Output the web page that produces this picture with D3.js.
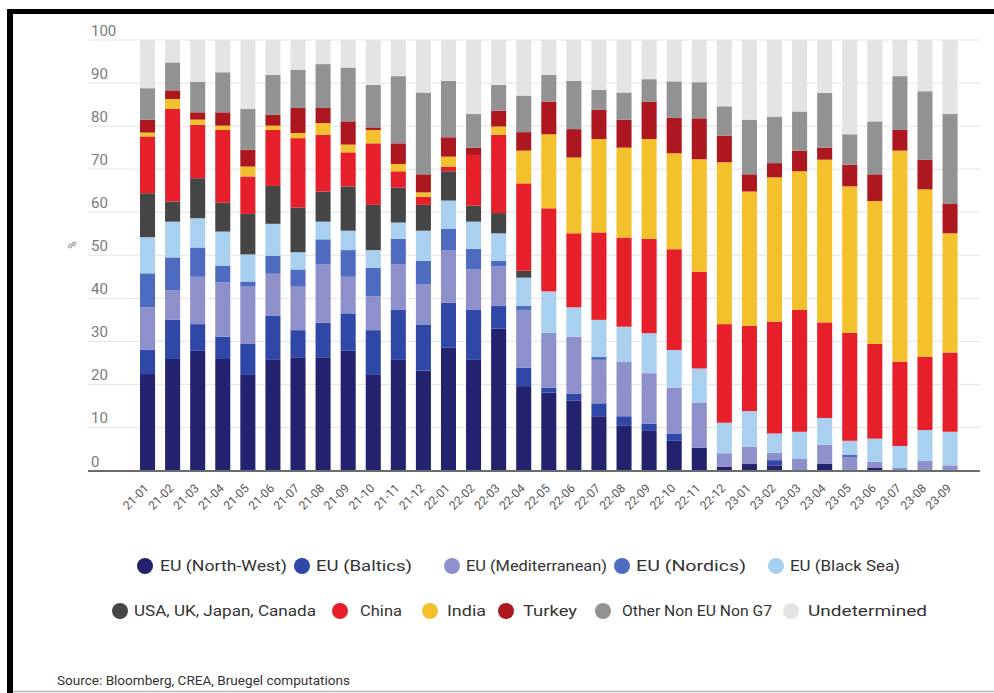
<!DOCTYPE html>
<html>
<head>
<meta charset="utf-8">
<script src="https://cdn.jsdelivr.net/npm/d3@7"></script>
<style>
  html, body { margin: 0; padding: 0; background: #fff; }
  svg { display: block; }
  text { font-family: "Liberation Sans Narrow", "Roboto", "Liberation Sans", sans-serif; }
</style>
</head>
<body>
<svg id="chart" width="994" height="693"></svg>
<script>
// ---------- DATA ----------
const months = ["21-01","21-02","21-03","21-04","21-05","21-06","21-07","21-08","21-09","21-10","21-11","21-12",
  "22-01","22-02","22-03","22-04","22-05","22-06","22-07","22-08","22-09","22-10","22-11","22-12",
  "23-01","23-02","23-03","23-04","23-05","23-06","23-07","23-08","23-09"];

const seriesNames = ["EU (North-West)","EU (Baltics)","EU (Mediterranean)","EU (Nordics)","EU (Black Sea)",
  "USA, UK, Japan, Canada","China","India","Turkey","Other Non EU Non G7","Undetermined"];

const seriesColors = ["#22226f","#2f47a6","#8d90cb","#4e6bbf","#a9d0ef","#454545","#e61f2b","#f3c12c","#ad1820","#929292","#e4e4e4"];

const euNorthWest    = [22.4,25.9,27.8,25.9,22.2,25.7,26.3,26.3,27.8,22.2,25.7,23.2,28.6,25.7,33.0,19.6,18.1,16.2,12.6,10.5,9.2,6.9,5.3,0.9,1.5,1.2,0,1.6,0,0.7,0,0,0];
const euBaltics      = [5.7,9.1,6.2,5.2,7.3,10.2,6.3,8.0,8.7,10.4,11.7,10.6,10.4,11.6,5.2,4.3,1.1,1.6,3.0,2.1,1.7,1.7,0,0,0,1.2,0,0,0,0,0,0,0];
const euMediterranean= [9.8,6.9,11.0,12.6,13.2,9.8,10.1,13.6,8.5,7.9,10.5,9.5,12.2,9.4,9.2,13.4,12.8,13.3,10.1,12.7,11.7,10.6,10.5,3.1,4.0,1.7,2.8,4.4,3.0,1.3,0.6,2.2,1.2];
const euNordics      = [7.9,7.6,6.8,3.9,1.2,4.2,4.0,5.8,6.2,6.6,5.9,5.4,4.9,4.8,1.3,0.9,0,0,0.7,0,0,0,0,0,0,0,0,0,0.7,0,0,0,0];
const euBlackSea     = [8.4,8.3,6.8,7.9,6.3,7.4,4.0,4.1,4.5,4.1,3.8,7.0,6.6,6.3,6.4,6.6,9.6,6.8,8.6,8.1,9.3,8.8,7.9,7.1,8.3,4.5,6.2,6.2,3.2,5.4,5.1,7.2,7.8];
const usaUkJapanCan  = [10.2,4.7,9.3,6.7,9.4,8.8,10.4,7.0,10.3,10.5,8.1,6.0,6.8,3.7,4.7,1.6,0,0,0,0,0,0,0,0,0,0,0,0,0,0,0,0,0];
const china          = [13.2,21.5,12.4,16.9,8.7,13.0,16.1,13.2,7.9,14.3,3.8,1.9,1.1,11.8,18.2,20.3,19.3,17.2,20.3,20.7,21.9,23.4,22.5,22.9,19.8,26.0,28.3,22.2,25.1,22.0,19.6,17.0,18.4];
const india          = [0.9,2.3,1.2,1.0,2.3,1.0,1.2,2.7,1.8,3.1,1.7,1.0,2.3,0,1.9,7.6,17.2,17.6,21.7,20.9,23.2,22.3,26.1,37.6,31.2,33.5,32.2,37.8,34.0,33.2,49.0,38.9,27.7];
const turkey         = [3.0,2.0,1.7,3.1,3.9,2.5,5.8,3.5,5.4,0.6,4.8,4.2,4.5,1.7,3.7,4.3,7.6,6.6,6.8,6.5,8.7,8.2,9.5,6.2,4.0,3.3,4.8,2.8,5.0,6.2,4.8,6.9,6.8];
const otherNonEu     = [7.3,6.5,7.1,9.3,9.5,9.3,8.9,10.2,12.5,9.9,15.6,19.0,13.1,7.8,6.0,8.5,6.2,11.2,4.6,6.3,5.2,8.5,8.4,6.8,12.7,10.8,9.1,12.7,7.1,12.3,12.5,15.9,20.9];
const undetermined   = [11.2,5.2,9.7,7.5,16.0,8.1,6.9,5.6,6.4,10.4,8.4,12.2,9.5,17.2,10.4,12.9,8.1,9.5,11.6,12.2,9.1,9.6,9.8,15.4,18.5,17.8,16.6,12.3,21.9,18.9,8.4,11.9,17.2];

const yTicks = [0,10,20,30,40,50,60,70,80,90,100];
const yAxisLabel = "%";
const sourceText = "Source: Bloomberg, CREA, Bruegel computations";

// ---------- BUILD TABLE ----------
const seriesValues = [euNorthWest,euBaltics,euMediterranean,euNordics,euBlackSea,usaUkJapanCan,china,india,turkey,otherNonEu,undetermined];
const keys = seriesNames;
const table = months.map((m,i) => {
  const row = {month: m};
  keys.forEach((k,j) => row[k] = seriesValues[j][i]);
  return row;
});
const stacked = d3.stack().keys(keys)(table);
const color = d3.scaleOrdinal().domain(keys).range(seriesColors);

// ---------- LAYOUT ----------
const svg = d3.select("#chart");

// frame
svg.append("rect").attr("x",7).attr("y",9).attr("width",987).attr("height",5).attr("fill","#000");
svg.append("rect").attr("x",7).attr("y",9).attr("width",6).attr("height",684).attr("fill","#000");
svg.append("line").attr("x1",13).attr("x2",994).attr("y1",691.5).attr("y2",691.5).attr("stroke","#bbb").attr("stroke-width",1.5);

const x = d3.scaleBand().domain(months).range([135, 962.6]).paddingInner(0.4).paddingOuter(0.2);
const y = d3.scaleLinear().domain([0,100]).range([470.5, 40]);

// gridlines
svg.append("g").selectAll("line").data(yTicks.filter(t => t > 0)).join("line")
  .attr("x1", 88).attr("x2", 980)
  .attr("y1", d => y(d)).attr("y2", d => y(d))
  .attr("stroke", "#e3e3e3").attr("stroke-width", 1);

// y tick labels
svg.append("g").selectAll("text").data(yTicks).join("text")
  .attr("x", 91).attr("y", d => y(d) - 4)
  .attr("font-size", 15).attr("fill", "#7a7a7a")
  .text(d => d);

svg.append("text")
  .attr("transform", "translate(76,245) rotate(-90)")
  .attr("text-anchor","middle").attr("font-size",10).attr("fill","#777")
  .text(yAxisLabel);

// bars
svg.append("g").selectAll("g").data(stacked).join("g")
  .attr("fill", d => color(d.key))
  .selectAll("rect").data(d => d).join("rect")
  .attr("x", d => x(d.data.month))
  .attr("width", x.bandwidth())
  .attr("y", d => y(d[1]))
  .attr("height", d => Math.max(0, y(d[0]) - y(d[1])));

// baseline
svg.append("line").attr("x1",88).attr("x2",980).attr("y1",471).attr("y2",471)
  .attr("stroke","#6b6b6b").attr("stroke-width",2);

// x labels
svg.append("g").selectAll("text").data(months).join("text")
  .attr("transform", d => `translate(${x(d) + x.bandwidth()/2 - 1},${486}) rotate(-45)`)
  .attr("text-anchor","end").attr("dy","0.35em")
  .attr("font-size", 12).attr("fill", "#555")
  .text(d => d);

// legend
const legendLayout = [
  {cx:145, cy:566, tx:160, w:127},
  {cx:302, cy:566, tx:316, w:96},
  {cx:452, cy:566, tx:466, w:141},
  {cx:622, cy:566, tx:636, w:110},
  {cx:776, cy:566, tx:790, w:110},
  {cx:120, cy:611, tx:134, w:182},
  {cx:340, cy:611, tx:360, w:42},
  {cx:430, cy:611, tx:447, w:39},
  {cx:506, cy:611, tx:523, w:54},
  {cx:603, cy:611, tx:622, w:150},
  {cx:791, cy:611, tx:808, w:119}
];
const leg = svg.append("g").selectAll("g").data(keys).join("g");
leg.append("circle")
  .attr("cx", (d,i) => legendLayout[i].cx).attr("cy", (d,i) => legendLayout[i].cy)
  .attr("r", 8).attr("fill", d => color(d));
leg.append("text")
  .attr("x", (d,i) => legendLayout[i].tx).attr("y", (d,i) => legendLayout[i].cy)
  .attr("dy","0.35em").attr("font-size",15).attr("fill","#333")
  .attr("textLength", (d,i) => legendLayout[i].w).attr("lengthAdjust","spacingAndGlyphs")
  .text(d => d);

// source
svg.append("text").attr("x",57).attr("y",685)
  .attr("font-size",13).attr("fill","#333")
  .attr("textLength",293).attr("lengthAdjust","spacingAndGlyphs")
  .text(sourceText);
</script>
</body>
</html>
